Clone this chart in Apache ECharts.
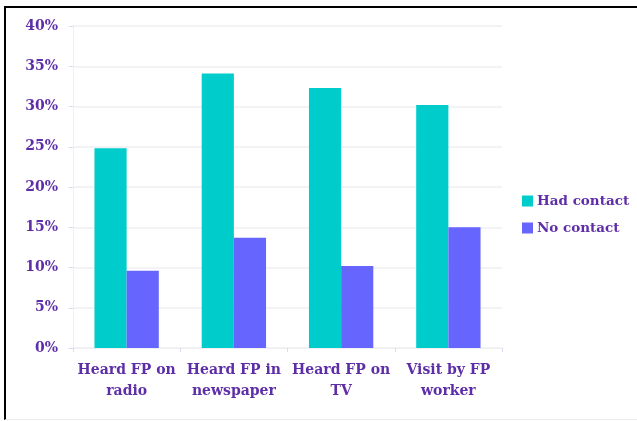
<!DOCTYPE html>
<html>
<head>
<meta charset="utf-8">
<script src="https://cdn.jsdelivr.net/npm/echarts@6/dist/echarts.min.js"></script>
<style>
  html, body { margin: 0; padding: 0; background: #ffffff; }
  #wrap { position: relative; width: 637px; height: 421px; overflow: hidden; }
  #chart { position: absolute; left: 0; top: 0; width: 637px; height: 421px; }
  #frame {
    position: absolute; left: 4px; top: 6px; width: 640px; height: 411px;
    border-top: 2px solid #000; border-left: 2px solid #000; border-bottom: 1px solid #ececec;
    pointer-events: none;
  }
</style>
</head>
<body>
<div id="wrap">
  <div id="chart"></div>
  <div id="frame"></div>
</div>
<script>
  // Exposure to family-planning messages, by contact status
  const categories = ['Heard FP on\nradio', 'Heard FP in\nnewspaper', 'Heard FP on\nTV', 'Visit by FP\nworker'];
  const hadContact = [24.8, 34.1, 32.3, 30.2];
  const noContact = [9.6, 13.7, 10.2, 15.0];
  const seriesNames = ['Had contact', 'No contact'];

  const textColor = '#5e2ea8';
  const labelFont = 'DejaVu Serif';

  const chart = echarts.init(document.getElementById('chart'), null, { renderer: 'canvas' });
  chart.setOption({
    animation: false,
    backgroundColor: 'transparent',
    color: ['#00cccc', '#6666ff'],
    grid: { left: 73, right: 135, top: 26, bottom: 73, containLabel: false },
    legend: {
      orient: 'vertical',
      left: 517,
      top: 189,
      itemWidth: 11,
      itemHeight: 11,
      itemGap: 13,
      icon: 'rect',
      textStyle: { color: textColor, fontFamily: labelFont, fontWeight: 'bold', fontSize: 13.5, padding: [0, 0, 0, -1] },
      data: seriesNames
    },
    xAxis: {
      type: 'category',
      data: categories,
      axisLine: { show: true, lineStyle: { color: '#efeff3', width: 1 } },
      axisTick: { show: true, length: 4, lineStyle: { color: '#ddd9f2' } },
      axisLabel: {
        color: textColor, fontFamily: labelFont, fontWeight: 'bold', fontSize: 14,
        lineHeight: 21, margin: 12, interval: 0
      },
      splitLine: { show: false }
    },
    yAxis: {
      type: 'value',
      min: 0,
      max: 40,
      interval: 5,
      axisLine: { show: true, lineStyle: { color: '#efeff3' } },
      axisTick: { show: true, length: 4, lineStyle: { color: '#ddd9f2' } },
      axisLabel: {
        color: textColor, fontFamily: labelFont, fontWeight: 'bold', fontSize: 14,
        margin: 15, formatter: '{value}%'
      },
      splitLine: { show: true, lineStyle: { color: '#f3f3f6', width: 2 } }
    },
    series: [
      {
        name: seriesNames[0], type: 'bar', data: hadContact,
        barGap: '0%', barCategoryGap: '40%',
        itemStyle: { color: '#00cccc' }
      },
      {
        name: seriesNames[1], type: 'bar', data: noContact,
        barGap: '0%', barCategoryGap: '40%',
        itemStyle: { color: '#6666ff' }
      }
    ]
  });
</script>
</body>
</html>
